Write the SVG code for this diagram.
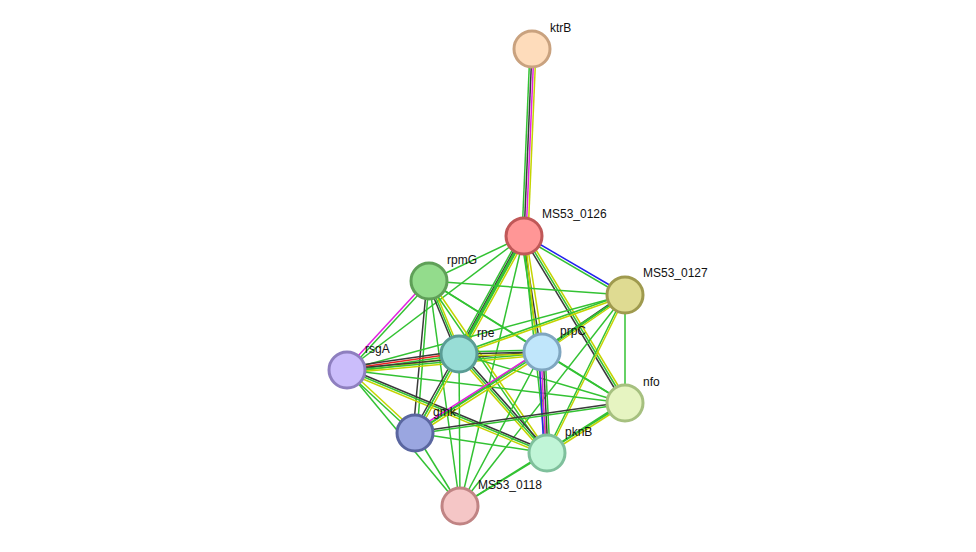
<svg xmlns="http://www.w3.org/2000/svg" width="976" height="552" viewBox="0 0 976 552">
<style>
line{stroke-width:1.5;fill:none}
.g{stroke:#33c233}.k{stroke:#3a3a3a}.y{stroke:#c4d400}.m{stroke:#e020e0}.b{stroke:#2222ee}.r{stroke:#ee2222}
.n{stroke-width:3}
text{font-family:"Liberation Sans",Arial,sans-serif;font-size:12px;fill:#111}
</style>
<rect width="976" height="552" fill="#fff"/>
<g id="edges">
<line class="g" x1="530" y1="49" x2="522" y2="236"/><line class="k" x1="532" y1="49" x2="524" y2="236"/><line class="m" x1="534" y1="49" x2="526" y2="236"/><line class="y" x1="536" y1="49" x2="528" y2="236"/>
<line class="b" x1="524" y1="235" x2="625" y2="294"/><line class="g" x1="524" y1="238" x2="625" y2="297"/>
<line class="g" x1="524" y1="236" x2="429" y2="281"/>
<line class="g" x1="524" y1="236" x2="347" y2="370"/>
<line class="g" x1="520" y1="236" x2="455" y2="354"/><line class="k" x1="522" y1="236" x2="457" y2="354"/><line class="g" x1="524" y1="236" x2="459" y2="354" style="stroke-width:3"/><line class="y" x1="527" y1="236" x2="462" y2="354"/>
<line class="g" x1="521" y1="236" x2="539" y2="352"/><line class="k" x1="523" y1="236" x2="541" y2="352"/><line class="y" x1="526" y1="236" x2="544" y2="352"/>
<line class="k" x1="523" y1="237" x2="624" y2="404"/><line class="g" x1="525" y1="236" x2="626" y2="403"/><line class="y" x1="527" y1="235" x2="628" y2="402"/>
<line class="g" x1="523" y1="236" x2="546" y2="453"/><line class="y" x1="525" y1="236" x2="548" y2="453"/>
<line class="g" x1="524" y1="236" x2="415" y2="433"/>
<line class="g" x1="524" y1="236" x2="460" y2="506"/>
<line class="g" x1="429" y1="281" x2="625" y2="295"/>
<line class="m" x1="428" y1="280" x2="346" y2="369"/><line class="g" x1="430" y1="282" x2="348" y2="371"/>
<line class="k" x1="427" y1="281" x2="457" y2="354"/><line class="g" x1="429" y1="281" x2="459" y2="354"/><line class="y" x1="431" y1="281" x2="461" y2="354"/>
<line class="k" x1="427" y1="281" x2="413" y2="433"/><line class="g" x1="429" y1="281" x2="417" y2="433"/>
<line class="g" x1="428" y1="282" x2="546" y2="454"/><line class="y" x1="430" y1="280" x2="548" y2="452"/>
<line class="g" x1="429" y1="281" x2="625" y2="403"/>
<line class="g" x1="429" y1="281" x2="460" y2="506"/>
<line class="g" x1="429" y1="281" x2="542" y2="352"/>
<line class="g" x1="625" y1="294" x2="459" y2="353"/><line class="y" x1="625" y1="296" x2="459" y2="355"/>
<line class="k" x1="624" y1="294" x2="541" y2="351"/><line class="g" x1="625" y1="295" x2="542" y2="352"/><line class="y" x1="626" y1="296" x2="543" y2="353"/>
<line class="g" x1="625" y1="295" x2="347" y2="370"/>
<line class="g" x1="625" y1="295" x2="625" y2="403"/>
<line class="g" x1="624" y1="295" x2="546" y2="453"/><line class="y" x1="626" y1="295" x2="548" y2="453"/>
<line class="g" x1="625" y1="295" x2="415" y2="433"/>
<line class="g" x1="625" y1="295" x2="460" y2="506"/>
<line class="k" x1="347" y1="367" x2="459" y2="351"/><line class="r" x1="347" y1="369" x2="459" y2="353"/><line class="g" x1="347" y1="371" x2="459" y2="355"/><line class="y" x1="347" y1="373" x2="459" y2="357"/>
<line class="k" x1="347" y1="369" x2="542" y2="351"/><line class="g" x1="347" y1="371" x2="542" y2="353"/><line class="y" x1="347" y1="373" x2="542" y2="355"/>
<line class="g" x1="346" y1="371" x2="414" y2="434"/><line class="y" x1="348" y1="369" x2="416" y2="432"/>
<line class="k" x1="347" y1="368" x2="547" y2="451"/><line class="g" x1="347" y1="370" x2="547" y2="453"/><line class="y" x1="346" y1="372" x2="546" y2="455"/>
<line class="g" x1="347" y1="370" x2="625" y2="403"/>
<line class="g" x1="347" y1="370" x2="460" y2="506"/>
<line class="g" x1="459" y1="352" x2="542" y2="350"/><line class="k" x1="459" y1="354" x2="542" y2="352"/><line class="y" x1="459" y1="356" x2="542" y2="354"/>
<line class="k" x1="457" y1="353" x2="413" y2="432"/><line class="g" x1="459" y1="354" x2="415" y2="433"/><line class="y" x1="461" y1="355" x2="417" y2="434"/>
<line class="k" x1="460" y1="352" x2="548" y2="451"/><line class="g" x1="459" y1="354" x2="547" y2="453"/><line class="y" x1="458" y1="356" x2="546" y2="455"/>
<line class="g" x1="459" y1="354" x2="625" y2="403"/>
<line class="g" x1="459" y1="354" x2="460" y2="506"/>
<line class="b" x1="539" y1="352" x2="544" y2="453"/><line class="m" x1="541" y1="352" x2="546" y2="453"/><line class="k" x1="543" y1="352" x2="548" y2="453"/><line class="g" x1="545" y1="352" x2="550" y2="453"/>
<line class="m" x1="541" y1="350" x2="414" y2="431"/><line class="g" x1="542" y1="352" x2="415" y2="433"/><line class="y" x1="543" y1="354" x2="416" y2="435"/>
<line class="g" x1="542" y1="352" x2="625" y2="403"/>
<line class="g" x1="542" y1="352" x2="460" y2="506"/>
<line class="k" x1="625" y1="402" x2="415" y2="432"/><line class="g" x1="625" y1="404" x2="415" y2="434"/>
<line class="g" x1="624" y1="402" x2="546" y2="452"/><line class="y" x1="626" y1="404" x2="548" y2="454"/>
<line class="g" x1="625" y1="403" x2="460" y2="506"/>
<line class="g" x1="415" y1="433" x2="547" y2="453"/>
<line class="g" x1="415" y1="433" x2="460" y2="506"/>
<line class="g" x1="547" y1="453" x2="460" y2="506"/>
</g>
<g id="ktrB"><circle class="n" cx="532" cy="49" r="18" fill="#fedcbb" stroke="#c9a27f"/><text x="550" y="32">ktrB</text></g>
<g id="MS53_0126"><circle class="n" cx="524" cy="236" r="18" fill="#ff9696" stroke="#c05858"/><text x="542" y="218">MS53_0126</text></g>
<g id="MS53_0127"><circle class="n" cx="625" cy="295" r="18" fill="#dfdb92" stroke="#9f9a4e"/><text x="643" y="277">MS53_0127</text></g>
<g id="rpmG"><circle class="n" cx="429" cy="281" r="18" fill="#93dc8c" stroke="#5fa058"/><text x="447" y="264">rpmG</text></g>
<g id="rpe"><circle class="n" cx="459" cy="354" r="18" fill="#98ddd6" stroke="#5a9c95"/><text x="477" y="337">rpe</text></g>
<g id="prpC"><circle class="n" cx="542" cy="352" r="18" fill="#c0e6fb" stroke="#7fa6c0"/><text x="560" y="335">prpC</text></g>
<g id="rsgA"><circle class="n" cx="347" cy="370" r="18" fill="#cbbdfb" stroke="#8e7fbf"/><text x="365" y="353">rsgA</text></g>
<g id="nfo"><circle class="n" cx="625" cy="403" r="18" fill="#e6f4c1" stroke="#a6c07f"/><text x="643" y="386">nfo</text></g>
<g id="gmk"><circle class="n" cx="415" cy="433" r="18" fill="#9aa6e0" stroke="#5a66a0"/><text x="433" y="416">gmk</text></g>
<g id="pknB"><circle class="n" cx="547" cy="453" r="18" fill="#c0f5d7" stroke="#7fc09c"/><text x="565" y="436">pknB</text></g>
<g id="MS53_0118"><circle class="n" cx="460" cy="506" r="18" fill="#f5c6c6" stroke="#c08484"/><text x="478" y="489">MS53_0118</text></g>
</svg>
